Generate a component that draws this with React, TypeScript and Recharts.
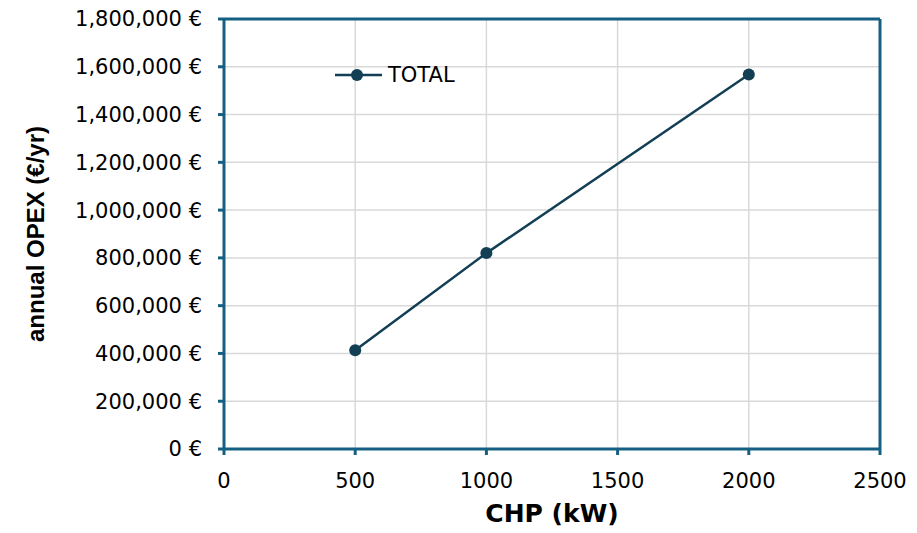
import React from 'react';
import { LineChart, Line, XAxis, YAxis, CartesianGrid, ReferenceLine } from 'recharts';

const chpKw = [500, 1000, 2000];
const totalOpex = [413000, 820000, 1568000];
const xTicks = [0, 500, 1000, 1500, 2000, 2500];
const yTicks = [0, 200000, 400000, 600000, 800000, 1000000, 1200000, 1400000, 1600000, 1800000];
const seriesName = 'TOTAL';
const xTitle = 'CHP (kW)';
const yTitle = 'annual OPEX (€/yr)';

const data = chpKw.map((c, i) => ({ chp: c, total: totalOpex[i] }));

const AXIS = '#156082';
const LINE = '#133f55';
const TICK_FONT = 'DejaVu Sans, sans-serif';

const fmtEuro = (v: number) => `${v.toLocaleString('en-US')} €`;

const YTitle = (props: any) => {
  const vb = props.viewBox || {};
  const cx = vb.x + 44;
  const cy = vb.y + vb.height / 2;
  return (
    <text x={cx} y={cy} transform={`rotate(-90 ${cx} ${cy})`} textAnchor="middle"
      fontFamily="Liberation Sans, Arial, sans-serif" fontWeight="bold" fontSize={24} fill="#000">
      {yTitle}
    </text>
  );
};

const XTitle = (props: any) => {
  const vb = props.viewBox || {};
  return (
    <text x={vb.x + vb.width / 2} y={vb.y + 73} textAnchor="middle"
      fontFamily="DejaVu Sans, sans-serif" fontWeight="bold" fontSize={25} fill="#000">
      {xTitle}
    </text>
  );
};

export default function App() {
  return (
    <div style={{ position: 'absolute', left: 0, top: 0, width: 917, height: 533, background: '#fff' }}>
      <LineChart width={917} height={533} data={data} margin={{ top: 19, right: 37, bottom: 0, left: 0 }}>
        <CartesianGrid stroke="#d9d9d9" strokeWidth={1.5} />
        <XAxis
          dataKey="chp"
          type="number"
          domain={[0, 2500]}
          ticks={xTicks}
          height={84}
          tickSize={6}
          tickMargin={18}
          axisLine={{ stroke: AXIS, strokeWidth: 3 }}
          tickLine={{ stroke: AXIS, strokeWidth: 3 }}
          tick={{ fontSize: 21, fill: '#000', fontFamily: TICK_FONT }}
          label={<XTitle />}
          interval={0}
        />
        <YAxis
          type="number"
          domain={[0, 1800000]}
          ticks={yTicks}
          width={224}
          tickSize={6}
          tickMargin={16}
          axisLine={{ stroke: AXIS, strokeWidth: 3 }}
          tickLine={{ stroke: AXIS, strokeWidth: 3 }}
          tick={{ fontSize: 21, fill: '#000', fontFamily: TICK_FONT }}
          tickFormatter={fmtEuro}
          label={<YTitle />}
          interval={0}
        />
        <ReferenceLine x={2500} stroke={AXIS} strokeWidth={3} />
        <ReferenceLine y={1800000} stroke={AXIS} strokeWidth={3} />
        <Line
          type="linear"
          dataKey="total"
          name={seriesName}
          stroke={LINE}
          strokeWidth={2.5}
          dot={{ r: 6, fill: LINE, stroke: LINE, strokeWidth: 0 }}
          isAnimationActive={false}
        />
      </LineChart>
      <div style={{ position: 'absolute', left: 335, top: 62, width: 140, height: 26 }}>
        <svg width={140} height={26}>
          <line x1={0} y1={13} x2={47} y2={13} stroke={LINE} strokeWidth={2.5} />
          <circle cx={22} cy={13} r={6} fill={LINE} />
          <text x={53} y={13} dy="0.355em" fontFamily={TICK_FONT} fontSize={21} fill="#000">{seriesName}</text>
        </svg>
      </div>
    </div>
  );
}
